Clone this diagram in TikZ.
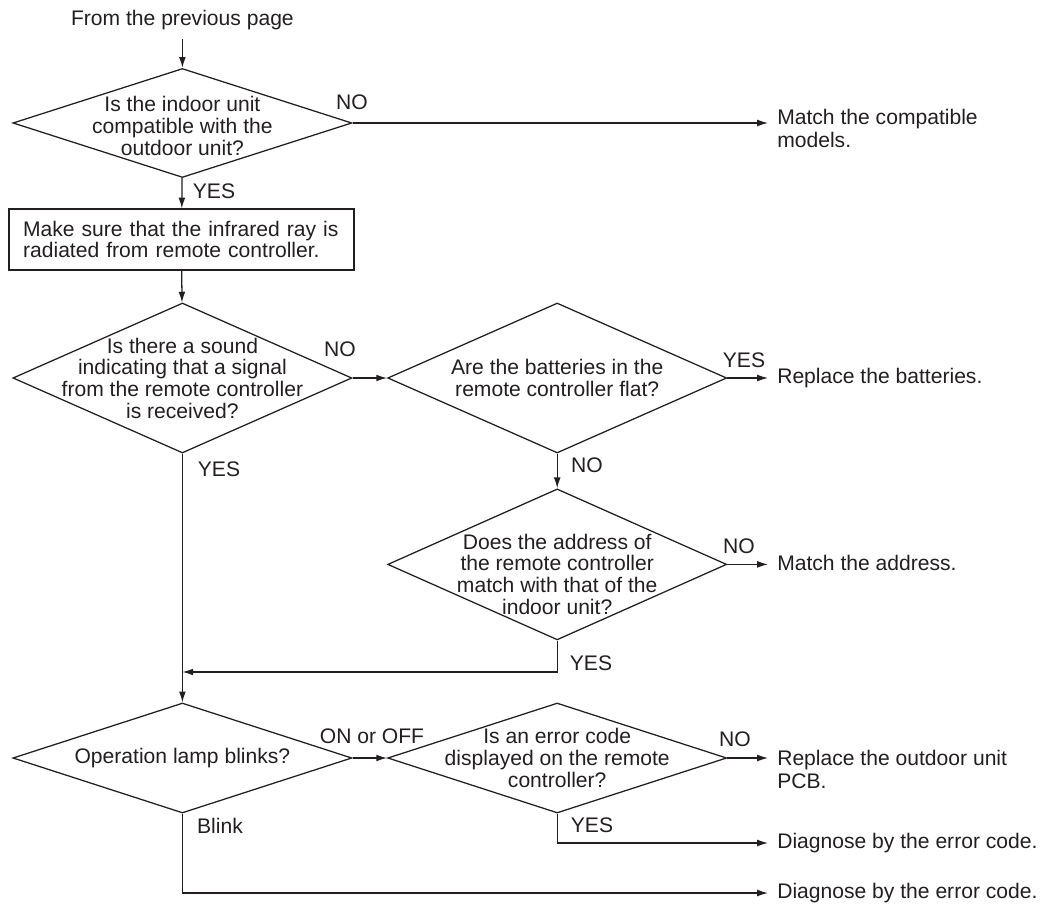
\documentclass[tikz,border=0pt]{standalone}
\usepackage{fontspec}
\setmainfont{Liberation Sans}
\usepackage{xcolor}
\usetikzlibrary{positioning}
\usetikzlibrary{arrows.meta}
\usetikzlibrary{shapes.geometric}
\definecolor{inkgray}{HTML}{231F20}

\begin{document}
\begin{tikzpicture}
    % Stili
    \tikzset{
        txt/.style={
            text=inkgray,
            font=\fontsize{15}{15.4}\selectfont,
            align=center,
            inner sep=0pt
        },
        decision/.style={
            diamond,
            draw=inkgray,
            line width=0.9pt,
            minimum width=8.475cm,
            minimum height=#1,
            inner sep=0pt
        },
        actionbox/.style={
            txt,
            draw=inkgray,
            line width=0.9pt,
            align=left,
            text width=7.925cm,
            inner xsep=0.35cm,
            minimum width=8.625cm,
            minimum height=1.525cm
        },
        outcome/.style={
            txt,
            font=\fontsize{15}{16.8}\selectfont,
            align=left,
            inner xsep=0.225cm
        },
        answer/.style={txt},
        arr/.style={
            draw=inkgray,
            line width=0.9pt,
            -{Latex[length=2.7mm, width=1.7mm]}
        }
    }

    \useasboundingbox (0,0) rectangle (26.275,-22.7);

    % Blocchi di sinistra
    \node[txt, inner ysep=0.22cm] (start) at (4.56,-0.51) {From the previous page};

    \node[decision=2.725cm, label={[txt, yshift=-0.075cm]center:Is the indoor unit\\compatible with the\\outdoor unit?}] (d1) at (4.56,-3.075) {};

    \node[actionbox] (check) at (4.54,-5.99) {Make sure that the infrared ray is\\radiated from remote controller.};

    \node[decision=3.75cm, label={[txt]center:Is there a sound\\indicating that a signal\\from the remote controller\\is received?}] (d2) at (4.56,-9.45) {};

    \node[decision=2.75cm, label={[txt]center:Operation lamp blinks?}] (d5) at (4.56,-18.95) {};

    % Blocchi centrali
    \node[decision=3.75cm, label={[txt]center:Are the batteries in the\\remote controller flat?}] (d3) at (13.93,-9.45) {};

    \node[decision=3.775cm, label={[txt, yshift=-0.24cm]center:Does the address of\\the remote controller\\match with that of the\\indoor unit?}] (d4) at (13.93,-14.11) {};

    \node[decision=2.75cm, label={[txt]center:Is an error code\\displayed on the remote\\controller?}] (d6) at (13.93,-18.95) {};

    % Esiti
    \node[outcome, anchor=north west] (compat) at (19.2,-2.72) {Match the compatible\\models.};
    \node[outcome, anchor=west] (batt) at (19.2,-9.45) {Replace the batteries.};
    \node[outcome, anchor=west] (addr) at (19.2,-14.08) {Match the address.};
    \node[outcome, anchor=north west] (pcb) at (19.2,-18.74) {Replace the outdoor unit\\PCB.};
    \node[outcome, anchor=west] (diag1) at (19.2,-21.075) {Diagnose by the error code.};
    \node[outcome, anchor=west] (diag2) at (19.2,-22.325) {Diagnose by the error code.};

    \coordinate (join) at (4.56,-16.8);

    % Risposte
    \node[answer] (d1no) at (8.8,-2.55) {NO};
    \node[answer] (d1yes) at (5.35,-4.79) {YES};
    \node[answer] (d2no) at (8.5,-8.725) {NO};
    \node[answer] (d2yes) at (5.475,-11.725) {YES};
    \node[answer] (d3yes) at (18.6,-9.0) {YES};
    \node[answer] (d3no) at (14.675,-11.625) {NO};
    \node[answer] (d4no) at (18.475,-13.65) {NO};
    \node[answer] (d4yes) at (14.775,-16.575) {YES};
    \node[answer] (d5on) at (9.3,-18.4) {ON or OFF};
    \node[answer] (d5blink) at (5.5,-20.65) {Blink};
    \node[answer] (d6no) at (18.375,-18.475) {NO};
    \node[answer] (d6yes) at (14.8,-20.625) {YES};

    % Collegamenti
    \draw[arr] (start) -- (d1);
    \draw[arr] (d1) -- (check);
    \draw[arr] (d1.east) -- (d1.east -| compat.west);
    \draw[arr] (check) -- (d2);
    \draw[arr] (d2.east) -- (d3.west);
    \draw[arr] (d3.east) -- (d3.east -| batt.west);
    \draw[arr] (d3.south) -- (d4.north);
    \draw[arr] (d4.east) -- (d4.east -| addr.west);
    \draw[arr] (d4.south) |- (join);
    \draw[arr] (d2.south) -- (d5.north);
    \draw[arr] (d5.east) -- (d6.west);
    \draw[arr] (d6.east) -- (d6.east -| pcb.west);
    \draw[arr] (d6.south) |- (diag1.west);
    \draw[arr] (d5.south) |- (diag2.west);
\end{tikzpicture}
\end{document}
